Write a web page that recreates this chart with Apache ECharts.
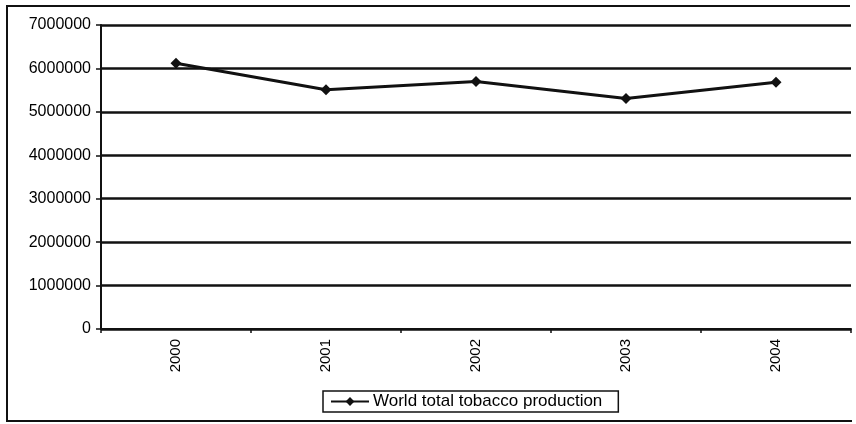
<!DOCTYPE html>
<html><head><meta charset="utf-8">
<script src="https://cdn.jsdelivr.net/npm/echarts@6/dist/echarts.min.js"></script>
<style>html,body{margin:0;padding:0;background:#fff}#c{width:856px;height:424px}</style>
</head><body><div id="c"></div>
<script>
const years = ['2000','2001','2002','2003','2004'];
const production = [6120000, 5510000, 5700000, 5310000, 5680000];
const seriesName = 'World total tobacco production';
const yMin = 0, yMax = 7000000, yStep = 1000000;

const chart = echarts.init(document.getElementById('c'), null, {renderer:'canvas'});
chart.setOption({
  animation:false,
  backgroundColor:'#fff',
  textStyle:{fontFamily:'Liberation Sans, Arial, sans-serif', color:'#000'},
  graphic:[{type:'polyline', shape:{points:[[850,6],[7,6],[7,421],[852,421]]}, style:{fill:'none', stroke:'#111', lineWidth:2}}],
  grid:{left:101, right:5, top:25, bottom:95},
  legend:{
    data:[{name:seriesName}], top:391, left:323, itemWidth:38, itemHeight:11, itemGap:6,
    borderColor:'#111', borderWidth:1.5, padding:[2,16,2,7],
    textStyle:{fontSize:17, color:'#000', fontFamily:'Liberation Sans, Arial, sans-serif', padding:[0,0,0,-1]}
  },
  xAxis:{
    type:'category', data:years, boundaryGap:true,
    axisLine:{lineStyle:{color:'#111', width:2}},
    axisTick:{show:true, length:4, lineStyle:{color:'#111', width:1.5}},
    axisLabel:{rotate:90, fontSize:15, color:'#000', margin:10}
  },
  yAxis:{
    type:'value', min:yMin, max:yMax, interval:yStep,
    axisLine:{show:true, lineStyle:{color:'#111', width:2}},
    axisTick:{show:true, length:5, lineStyle:{color:'#111', width:1.5}},
    axisLabel:{fontSize:16, color:'#000', margin:10, formatter:v => String(v)},
    splitLine:{lineStyle:{color:'#111', width:2.5}}
  },
  series:[{
    name:seriesName, type:'line', data:production,
    symbol:'diamond', symbolSize:11,
    lineStyle:{color:'#111', width:3}, itemStyle:{color:'#111'}
  }]
});
</script></body></html>
